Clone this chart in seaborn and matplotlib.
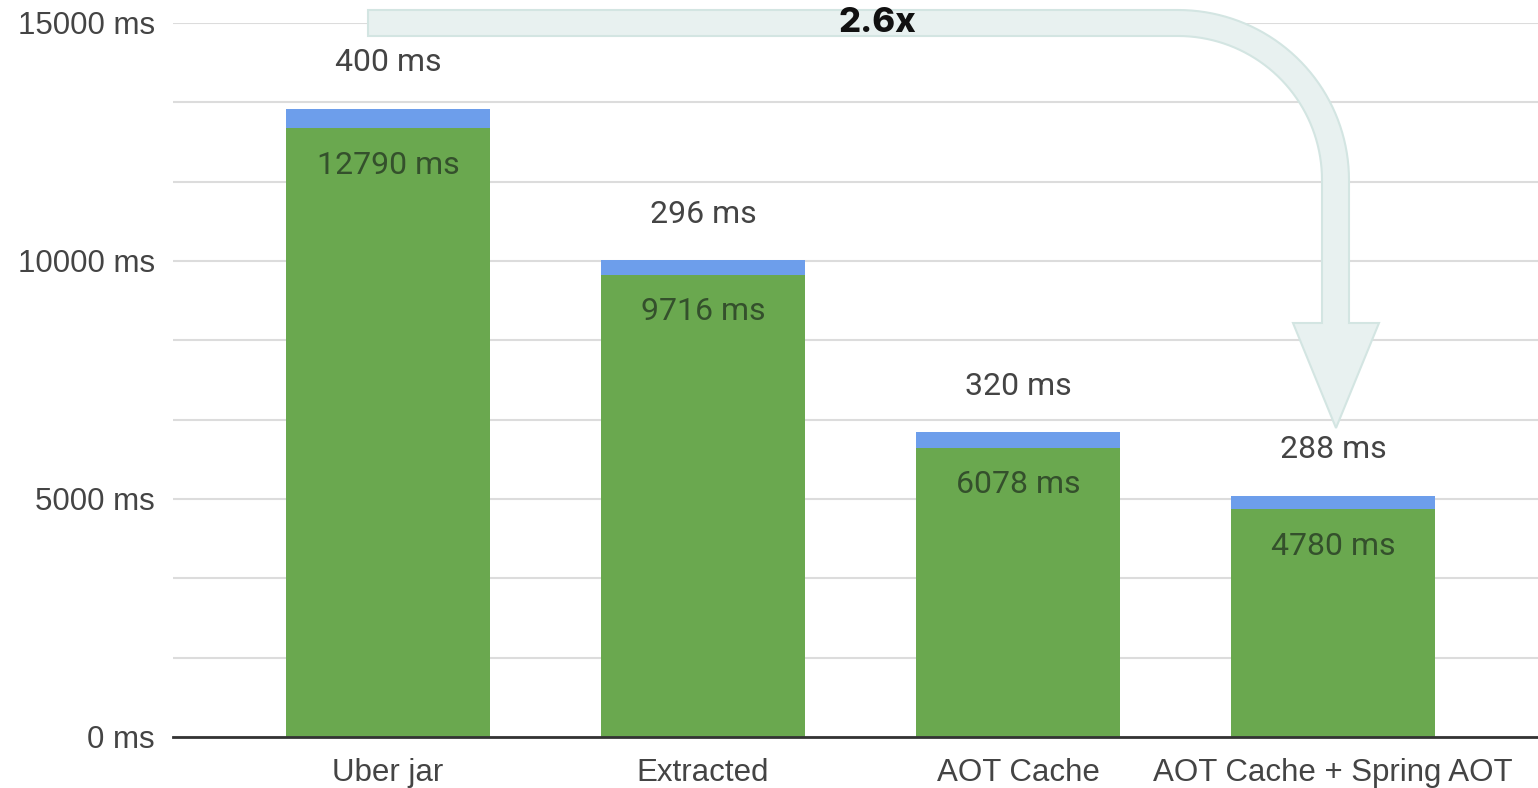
import numpy as np
import pandas as pd
import seaborn as sns
import matplotlib.pyplot as plt
from matplotlib.path import Path
from matplotlib.patches import PathPatch
from matplotlib.ticker import FixedLocator

# Startup time breakdown per packaging mode
categories = ["Uber jar", "Extracted", "AOT Cache", "AOT Cache + Spring AOT"]
main_ms = [12790, 9716, 6078, 4780]
extra_ms = [400, 296, 320, 288]
speedup_label = "2.6x"

GREEN = "#6aa84f"
BLUE = "#6d9eeb"

sns.set_theme(style="white")
plt.rcParams["font.family"] = ["Roboto", "DejaVu Sans"]

W, H = 1538, 788
fig = plt.figure(figsize=(W / 100, H / 100), dpi=100)
ax = fig.add_axes([173 / W, 1 - 737 / H, 1 - 173 / W, (737 - 23) / H])

df = pd.DataFrame({"mode": categories, "main": main_ms, "extra": extra_ms})
df["total"] = df["main"] + df["extra"]

sns.barplot(data=df, x="mode", y="total", color=BLUE, saturation=1,
            width=0.648, linewidth=0, ax=ax, zorder=3)
sns.barplot(data=df, x="mode", y="main", color=GREEN, saturation=1,
            width=0.648, linewidth=0, ax=ax, zorder=4)

ax.set_ylim(0, 15000)
ax.set_xlim(-0.683, 3.651)
ax.set_xlabel("")
ax.set_ylabel("")

major = [0, 5000, 10000, 15000]
minor = [15000 / 9 * k for k in range(1, 9) if k % 3 != 0]
ax.yaxis.set_major_locator(FixedLocator(major))
ax.yaxis.set_minor_locator(FixedLocator(minor))
ax.set_yticklabels([f"{v} ms" for v in major])
ax.grid(axis="y", which="both", color="#dcdcdc", linewidth=1.5, zorder=0)
ax.set_axisbelow(True)
ax.tick_params(axis="y", which="both", length=0, pad=13,
               labelsize=22.5, labelcolor="#444444")
ax.tick_params(axis="x", length=0, pad=15, labelsize=22.5, labelcolor="#444444")
for lab in ax.get_yticklabels() + ax.get_xticklabels():
    lab.set_family(["Liberation Sans", "DejaVu Sans"])

for s in ["top", "right", "left"]:
    ax.spines[s].set_visible(False)
ax.spines["bottom"].set_color("#333333")
ax.spines["bottom"].set_linewidth(2)
ax.spines["bottom"].set_zorder(5)

# Value labels: main phase inside the green bar, extra phase above the stack
for i, (m, e) in enumerate(zip(main_ms, extra_ms)):
    ax.text(i, m - 780, f"{m} ms", ha="center", va="center",
            fontsize=23, color="#34502c", zorder=6)
    ax.text(i, m + e + 970, f"{e} ms", ha="center", va="center",
            fontsize=23, color="#444444", zorder=6)

# Curved speed-up arrow (pixel coordinates, origin top-left)
def arc(cx, cy, rx, ry, a0, a1, n=40):
    t = np.linspace(np.radians(a0), np.radians(a1), n)
    return [(cx + rx * np.cos(t_), cy - ry * np.sin(t_)) for t_ in t]

pts = [(368, 10), (1178, 10)]
pts += arc(1178, 180, 171, 170, 90, 0)
pts += [(1349, 323), (1379, 323), (1336, 428), (1293, 323), (1322, 323)]
pts += arc(1178, 180, 144, 144, 0, 90)
pts += [(1178, 36), (368, 36), (368, 10)]
verts = [(x / W, 1 - y / H) for x, y in pts]
codes = [Path.MOVETO] + [Path.LINETO] * (len(verts) - 2) + [Path.CLOSEPOLY]
arrow = PathPatch(Path(verts, codes), transform=fig.transFigure,
                  facecolor="#e8f1f0", edgecolor="#d3e5e2", linewidth=1.5,
                  zorder=10)
fig.patches.append(arrow)

fig.text(877 / W, 1 - 23 / H, speedup_label, ha="center", va="center",
         fontsize=25, fontweight="heavy", color="#111111",
         family=["Inter", "Lato", "DejaVu Sans"], zorder=11)

fig.savefig("out.png", dpi=100)
